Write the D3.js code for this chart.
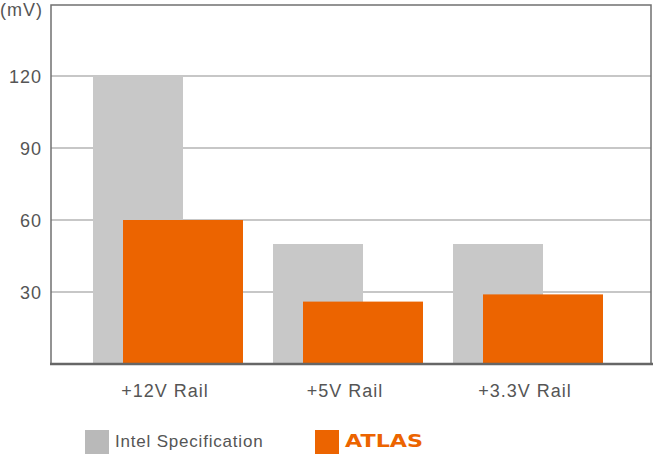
<!DOCTYPE html>
<meta charset="utf-8">
<head>
<style>
body { margin: 0; background: #fff; }
text { font-family: "Liberation Sans", Arial, sans-serif; fill: #555; letter-spacing: 1px; }
</style>
</head>
<body>
<div id="chart"></div>
<script src="https://d3js.org/d3.v7.min.js"></script>
<script>

// data
const rails = ["+12V Rail", "+5V Rail", "+3.3V Rail"];
const intelSpec = [120, 50, 50];
const atlas = [60, 26, 29];
const yTicks = [30, 60, 90, 120];
const seriesNames = ["Intel Specification", "ATLAS"];

const width = 653, height = 454;
const plot = {left: 51, right: 651, top: 5, bottom: 364};

const svg = d3.select("#chart").append("svg")
    .attr("width", width)
    .attr("height", height);

const y = d3.scaleLinear().domain([0, 150]).range([plot.bottom, plot.top - 1]);

const x = d3.scaleBand().domain(rails).range([78, 618]);

// gridlines
svg.append("g").selectAll("line")
    .data(yTicks)
    .enter().append("line")
    .attr("x1", plot.left).attr("x2", plot.right)
    .attr("y1", d => y(d)).attr("y2", d => y(d))
    .attr("stroke", "#b4b4b4")
    .attr("stroke-width", 1.5);

// tick labels
svg.append("g").selectAll("text")
    .data(yTicks)
    .enter().append("text")
    .attr("x", 42)
    .attr("y", d => y(d) + 7)
    .attr("text-anchor", "end")
    .style("font-size", "18px")
    .text(d => d);

svg.append("text")
    .attr("x", 0).attr("y", 16)
    .style("font-size", "18px")
    .text("(mV)");

// bars: gray behind, orange in front
svg.append("g").selectAll("rect")
    .data(rails)
    .enter().append("rect")
    .attr("x", d => x(d) + 15)
    .attr("width", 90)
    .attr("y", (d, i) => y(intelSpec[i]))
    .attr("height", (d, i) => y(0) - y(intelSpec[i]))
    .attr("fill", "#c8c8c8");

svg.append("g").selectAll("rect")
    .data(rails)
    .enter().append("rect")
    .attr("x", d => x(d) + 45)
    .attr("width", 120)
    .attr("y", (d, i) => y(atlas[i]))
    .attr("height", (d, i) => y(0) - y(atlas[i]))
    .attr("fill", "#ec6400");

// frame
svg.append("path")
    .attr("d", `M${plot.left},${plot.bottom} V${plot.top} H${plot.right} V${plot.bottom}`)
    .attr("fill", "none")
    .attr("stroke", "#707070")
    .attr("stroke-width", 1.5);
svg.append("line")
    .attr("x1", plot.left - 1).attr("x2", width)
    .attr("y1", plot.bottom).attr("y2", plot.bottom)
    .attr("stroke", "#666")
    .attr("stroke-width", 2.5);

// category labels
svg.append("g").selectAll("text")
    .data(rails)
    .enter().append("text")
    .attr("x", d => x(d) + x.bandwidth() / 2 - 3)
    .attr("y", 397)
    .attr("text-anchor", "middle")
    .style("font-size", "18px")
    .text(d => d);

// legend
const legendX = [85, 315];
const legendColor = ["#b9b9b9", "#ec6400"];
const lg = svg.append("g");
lg.selectAll("rect")
    .data(seriesNames)
    .enter().append("rect")
    .attr("x", (d, i) => legendX[i])
    .attr("y", 430)
    .attr("width", 24).attr("height", 24)
    .attr("fill", (d, i) => legendColor[i]);

lg.append("text")
    .attr("x", 115).attr("y", 447)
    .style("font-size", "17px")
    .style("letter-spacing", "0.8px")
    .text(seriesNames[0]);

lg.append("text")
    .attr("x", 345).attr("y", 447)
    .attr("textLength", 78)
    .attr("lengthAdjust", "spacingAndGlyphs")
    .style("font-size", "17px")
    .style("font-weight", "bold")
    .style("letter-spacing", "0px")
    .style("font-family", "'DejaVu Sans', sans-serif")
    .style("fill", "#ec6400")
    .text(seriesNames[1]);

</script>
</body>
</html>
